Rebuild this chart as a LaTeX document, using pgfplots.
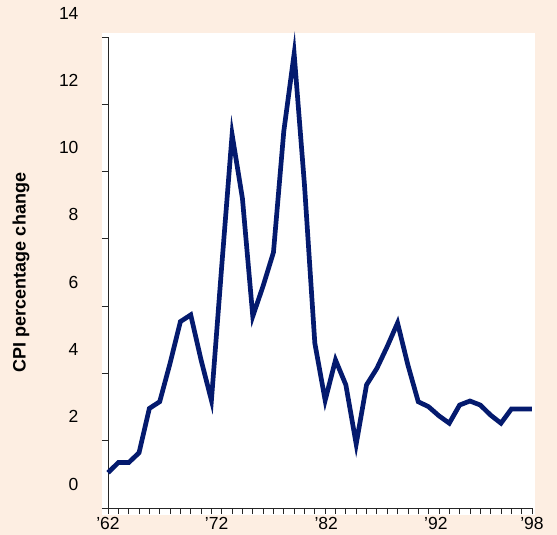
\documentclass[border=0pt]{standalone}
\usepackage{pgfplots}
\pgfplotsset{compat=1.18}
\usepackage{fontspec}
\setmainfont{Liberation Sans}
\definecolor{bg}{HTML}{FDEEE2}
\definecolor{navy}{HTML}{041A6E}

\begin{document}
\begin{tikzpicture}
\fill[bg] (0,0) rectangle (557bp,535bp);
\fill[white] (102bp,20bp) rectangle (535bp,502bp);
\begin{axis}[
    at={(108bp,27bp)}, anchor=south west,
    scale only axis, width=424bp, height=471bp,
    xmin=0, xmax=41, ymin=0, ymax=14,
    axis lines*=left,
    axis line style={line width=0.8bp, black!85},
    tick align=outside,
    major tick length=6bp,
    tick style={line width=0.8bp, black!85},
    xtick={0,...,41}, xticklabels={},
    ytick={0,2,...,14},
    extra x ticks={0,10.5,21.1,31.7,41},
    extra x tick labels={’62,’72,’82,’92,’98},
    extra x tick style={tick style={draw=none}},
    /pgf/number format/assume math mode=true,
    tick label style={font=\fontsize{17.5bp}{20bp}\selectfont},
    yticklabel style={yshift=24bp, xshift=-20bp},
    ylabel={CPI percentage change},
    ylabel style={at={(rel axis cs:-0.205,0.5)}, anchor=center,
        font=\fontsize{18bp}{21bp}\selectfont\bfseries},
    clip=false,
]
% CPI, % change per year, 1962 onwards
\addplot[navy, line width=4.7bp, line join=miter, miter limit=30] coordinates {
    (0,1.05) (1,1.35) (2,1.35) (3,1.64) (4,2.96) (5,3.16) (6,4.3)
    (7,5.54) (8,5.74) (9,4.4) (10,3.2) (11,7.2) (12,11.1) (13,9.2)
    (14,5.7) (15,6.6) (16,7.6) (17,11.2) (18,13.5) (19,9.6) (20,4.9)
    (21,3.2) (22,4.4) (23,3.66) (24,1.9) (25,3.66) (26,4.15) (27,4.8)
    (28,5.5) (29,4.25) (30,3.16) (31,3.01) (32,2.74) (33,2.52) (34,3.06)
    (35,3.18) (36,3.06) (37,2.76) (38,2.52) (39,2.94) (40,2.94) (41,2.94)
};
\end{axis}
\pgfresetboundingbox
\path (0,0) rectangle (557bp,535bp);
\end{tikzpicture}
\end{document}
